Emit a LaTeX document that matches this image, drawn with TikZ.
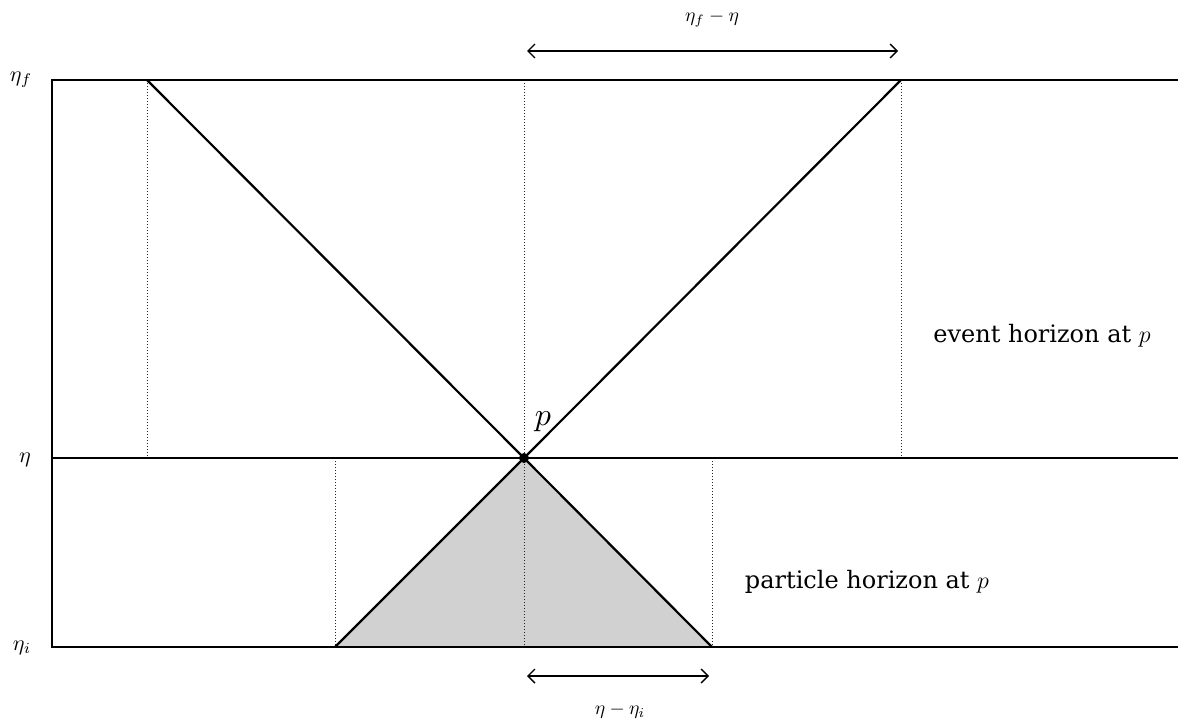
\RequirePackage{fix-cm}
\documentclass[tikz,border=0pt]{standalone}
\usepackage{fontspec}
\setmainfont{DejaVu Serif}
\usetikzlibrary{arrows.meta}
\begin{document}
\begin{tikzpicture}[x=1pt,y=-1pt,
  thickline/.style={line width=2.2pt,black},
  frameline/.style={line width=1.6pt,black},
  dotline/.style={line width=1pt,dotted,black!85},
  dimarrow/.style={line width=1.4pt,{Straight Barb[length=7pt,width=14pt]}-{Straight Barb[length=7pt,width=14pt]}},
  lbl/.style={font=\fontsize{24}{28}\selectfont,inner sep=0pt},
  mlbl/.style={font=\normalsize,scale=2.2,inner sep=0pt},
  dlbl/.style={font=\normalsize,scale=1.95,inner sep=0pt},
  plbl/.style={font=\normalsize,scale=3.2,inner sep=0pt}]
\useasboundingbox (0,0) rectangle (1178,725);
% key points
\coordinate (p) at (524,458);
\coordinate (tl) at (147,80);
\coordinate (tr) at (901,80);
\coordinate (tm) at (524,80);
\coordinate (bl) at (335,647);
\coordinate (br) at (712,647);
\coordinate (bm) at (524,647);
\coordinate (ml) at (335,458);
\coordinate (mr) at (712,458);
\coordinate (tll) at (147,458);
\coordinate (trr) at (901,458);
\coordinate (L1) at (52,80);
\coordinate (L2) at (52,458);
\coordinate (L3) at (52,647);
\coordinate (R1) at (1178,80);
\coordinate (R2) at (1178,458);
\coordinate (R3) at (1178,647);
\coordinate (a1) at (527,51);
\coordinate (a2) at (898,51);
\coordinate (b1) at (527,676);
\coordinate (b2) at (709,676);
% shaded past light cone
\fill[black!18] (p) -- (bl) -- (br) -- cycle;
% dotted verticals
\draw[dotline] (tl) -- (tll);
\draw[dotline] (tm) -- (bm);
\draw[dotline] (tr) -- (trr);
\draw[dotline] (ml) -- (bl);
\draw[dotline] (mr) -- (br);
% frame
\draw[frameline] (R1) -- (L1) -- (L3) -- (R3);
\draw[frameline] (L2) -- (R2);
% light cones
\draw[thickline] (tl) -- (p) -- (tr);
\draw[thickline] (bl) -- (p) -- (br);
\draw[thickline] (bl) -- (br);
\fill (p) circle (5pt);
% dimension arrows
\draw[dimarrow] (a1) -- (a2);
\draw[dimarrow] (b1) -- (b2);
% labels
\node[dlbl] (lt) at (712,19) {$\eta_f-\eta$};
\node[dlbl] (lb) at (620,711) {$\eta-\eta_i$};
\node[mlbl] (lf) at (21,80) {$\eta_f$};
\node[mlbl] (le) at (25,460) {$\eta$};
\node[mlbl] (li) at (22,648) {$\eta_i$};
\node[plbl] (lp) at (543,422) {$p$};
\node[lbl] (eh) at (1042,336) {event horizon at $p$};
\node[lbl] (ph) at (867,582) {particle horizon at $p$};
\end{tikzpicture}
\end{document}
